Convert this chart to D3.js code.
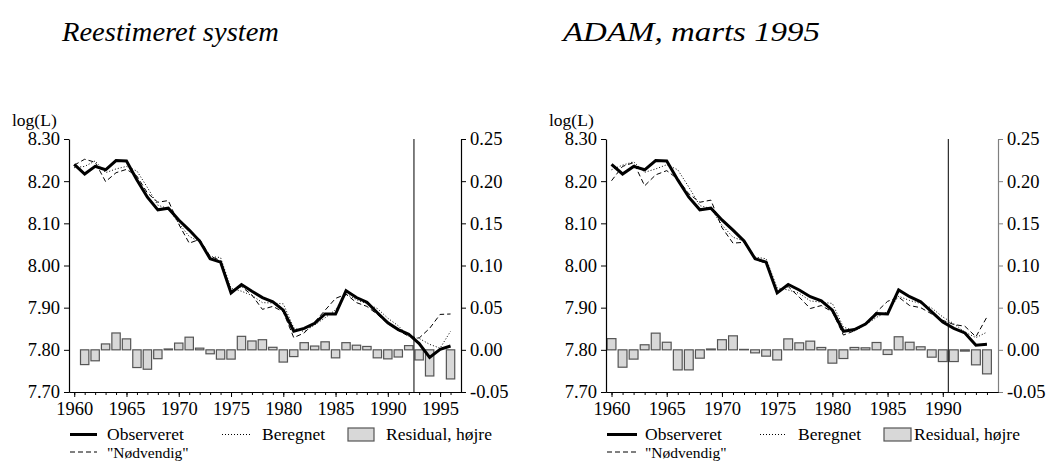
<!DOCTYPE html>
<html><head><meta charset="utf-8">
<script src="https://cdn.jsdelivr.net/npm/d3@7"></script>
<style>
body{margin:0;background:#fff;}
svg text{font-family:"Liberation Serif","Times New Roman",serif;fill:#000;}
</style></head>
<body><svg id="c" width="1050" height="461"></svg>
<script>
// ---------- DATA ----------
const titles = ["Reestimeret system", "ADAM, marts 1995"];
const legendLabels = ["Observeret", "Beregnet", "Residual, højre", "\"Nødvendig\""];
const yAxisLabel = "log(L)";
const leftTicks = [7.70, 7.80, 7.90, 8.00, 8.10, 8.20, 8.30];
const rightTicks = [-0.05, 0.00, 0.05, 0.10, 0.15, 0.20, 0.25];

// Panel A: Reestimeret system
const yearsA = [1960,1961,1962,1963,1964,1965,1966,1967,1968,1969,1970,1971,1972,1973,1974,1975,1976,1977,1978,1979,1980,1981,1982,1983,1984,1985,1986,1987,1988,1989,1990,1991,1992,1993,1994,1995,1996];
const xTicksA = [1960,1965,1970,1975,1980,1985,1990,1995];
const observedA = [8.240,8.217,8.235,8.227,8.249,8.248,8.203,8.162,8.132,8.136,8.108,8.084,8.058,8.016,8.008,7.935,7.955,7.939,7.924,7.914,7.894,7.844,7.851,7.863,7.885,7.885,7.940,7.924,7.913,7.888,7.864,7.848,7.837,7.815,7.782,7.801,7.809];
const computedA = [8.232,8.235,8.248,8.220,8.229,8.235,8.224,8.185,8.143,8.135,8.100,8.069,8.056,8.021,8.019,7.946,7.939,7.929,7.912,7.911,7.909,7.852,7.843,7.859,7.876,7.895,7.932,7.919,7.909,7.898,7.875,7.857,7.832,7.827,7.813,7.804,7.844];
const necessaryA = [8.238,8.252,8.245,8.199,8.220,8.228,8.212,8.172,8.150,8.154,8.098,8.053,8.062,8.022,8.012,7.940,7.950,7.930,7.896,7.903,7.890,7.829,7.840,7.866,7.894,7.922,7.932,7.912,7.903,7.884,7.862,7.846,7.832,7.828,7.851,7.884,7.885];
const residYearsA = [1961,1962,1963,1964,1965,1966,1967,1968,1969,1970,1971,1972,1973,1974,1975,1976,1977,1978,1979,1980,1981,1982,1983,1984,1985,1986,1987,1988,1989,1990,1991,1992,1993,1994,1995,1996];
const residualA = [-0.0175,-0.013,0.007,0.020,0.013,-0.021,-0.023,-0.0105,0.001,0.008,0.015,0.002,-0.0047,-0.011,-0.011,0.016,0.0105,0.012,0.003,-0.0145,-0.008,0.0085,0.0045,0.0095,-0.0095,0.0085,0.0055,0.004,-0.0095,-0.0107,-0.0085,0.005,-0.012,-0.031,0.0,-0.0345];
const splitA = 1992.5;

// Panel B: ADAM, marts 1995
const yearsB = [1960,1961,1962,1963,1964,1965,1966,1967,1968,1969,1970,1971,1972,1973,1974,1975,1976,1977,1978,1979,1980,1981,1982,1983,1984,1985,1986,1987,1988,1989,1990,1991,1992,1993,1994];
const xTicksB = [1960,1965,1970,1975,1980,1985,1990];
const observedB = [8.240,8.217,8.235,8.227,8.249,8.248,8.203,8.162,8.132,8.136,8.108,8.084,8.058,8.016,8.008,7.935,7.955,7.942,7.926,7.916,7.894,7.844,7.848,7.861,7.886,7.885,7.942,7.926,7.914,7.890,7.866,7.851,7.840,7.811,7.813];
const computedB = [8.227,8.238,8.246,8.221,8.229,8.239,8.227,8.186,8.142,8.135,8.096,8.067,8.058,8.020,8.016,7.947,7.942,7.934,7.916,7.913,7.910,7.854,7.845,7.859,7.877,7.891,7.927,7.917,7.910,7.899,7.878,7.862,7.842,7.829,7.842];
const necessaryB = [8.201,8.235,8.244,8.189,8.215,8.225,8.205,8.170,8.150,8.155,8.090,8.053,8.055,8.015,8.005,7.940,7.950,7.925,7.898,7.905,7.890,7.835,7.845,7.862,7.890,7.915,7.925,7.905,7.900,7.885,7.870,7.860,7.856,7.831,7.878];
const residYearsB = yearsB;
const residualB = [0.0133,-0.0206,-0.011,0.006,0.0198,0.009,-0.0238,-0.0238,-0.0099,0.001,0.012,0.0166,0.0005,-0.0036,-0.0075,-0.012,0.013,0.0083,0.0103,0.0028,-0.0158,-0.0103,0.0028,0.0024,0.0087,-0.0055,0.0155,0.009,0.0036,-0.0087,-0.0139,-0.0139,-0.0015,-0.0178,-0.0285];
const splitB = 1990.5;

// ---------- LAYOUT ----------
const panels = [
  {title: titles[0], titleX: 62, titleLen: 217, left: 69, right: 461, xDomain: [1959.5, 1997],
   years: yearsA, xTicks: xTicksA, obs: observedA, calc: computedA, need: necessaryA,
   rYears: residYearsA, resid: residualA, split: splitA, rightAxisColor: "#000",
   leg: {s1: [70, 97], t1: 107, s2: [222, 250], t2: 262, box: [348, 374], t3: 386}},
  {title: titles[1], titleX: 563, titleLen: 257, left: 606, right: 998, xDomain: [1959.5, 1995],
   years: yearsB, xTicks: xTicksB, obs: observedB, calc: computedB, need: necessaryB,
   rYears: residYearsB, resid: residualB, split: splitB, rightAxisColor: "#808080",
   leg: {s1: [607, 637], t1: 645, s2: [760, 787], t2: 798, box: [884, 911], t3: 914}}
];
const plotTop = 139, plotBottom = 392;
const svg = d3.select("#c");
const fmt = v => { const s = v.toFixed(2); return s === "-0.00" ? "0.00" : s; };

panels.forEach(p => {
  const g = svg.append("g");
  const x = d3.scaleLinear().domain(p.xDomain).range([p.left, p.right]);
  const yL = d3.scaleLinear().domain([7.70, 8.30]).range([plotBottom, plotTop]);
  const yR = d3.scaleLinear().domain([-0.05, 0.25]).range([plotBottom, plotTop]);
  const step = x(1961) - x(1960);

  // title
  g.append("text").attr("x", p.titleX).attr("y", 41)
    .attr("font-size", 28).attr("font-style", "italic")
    .attr("textLength", p.titleLen).attr("lengthAdjust", "spacingAndGlyphs")
    .text(p.title);

  // residual bars
  g.selectAll("rect.bar").data(p.resid.map((v, i) => ({yr: p.rYears[i], v})).filter(d => d.v !== 0))
    .join("rect").attr("class", "bar")
    .attr("x", d => x(d.yr) - step * 0.4).attr("width", step * 0.8)
    .attr("y", d => yR(Math.max(0, d.v)))
    .attr("height", d => Math.abs(yR(d.v) - yR(0)))
    .attr("fill", "#d8d8d8").attr("stroke", "#555").attr("stroke-width", 1.2);

  // split line
  g.append("line").attr("x1", x(p.split)).attr("x2", x(p.split))
    .attr("y1", plotTop).attr("y2", plotBottom).attr("stroke", "#000").attr("stroke-width", 1);

  const line = arr => d3.line().x((d, i) => x(p.years[i])).y(d => yL(d))(arr);
  g.append("path").attr("d", line(p.need)).attr("fill", "none").attr("stroke", "#000")
    .attr("stroke-width", 1).attr("stroke-dasharray", "5,3");
  g.append("path").attr("d", line(p.calc)).attr("fill", "none").attr("stroke", "#000")
    .attr("stroke-width", 1).attr("stroke-dasharray", "1,2");
  g.append("path").attr("d", line(p.obs)).attr("fill", "none").attr("stroke", "#000")
    .attr("stroke-width", 3).attr("stroke-linejoin", "miter");

  // axes
  const axL = g.append("g").attr("transform", `translate(${p.left},0)`)
    .call(d3.axisLeft(yL).tickValues(leftTicks).tickFormat(fmt).tickSize(5).tickSizeOuter(0).tickPadding(4));
  const axR = g.append("g").attr("transform", `translate(${p.right},0)`)
    .call(d3.axisRight(yR).tickValues(rightTicks).tickFormat(fmt).tickSize(5).tickSizeOuter(0).tickPadding(4));
  axR.selectAll("path,line").attr("stroke", p.rightAxisColor);
  const axMinor = g.append("g").attr("transform", `translate(0,${plotBottom})`)
    .call(d3.axisBottom(x).tickValues(p.years).tickFormat("").tickSize(3).tickSizeOuter(0));
  const axB = g.append("g").attr("transform", `translate(0,${plotBottom})`)
    .call(d3.axisBottom(x).tickValues(p.xTicks).tickFormat(d3.format("d")).tickSize(5).tickSizeOuter(0).tickPadding(5));
  [axL, axR, axMinor, axB].forEach(a => {
    a.selectAll("text").attr("font-size", 18.5).attr("font-family", "'Liberation Serif','Times New Roman',serif").attr("fill", "#000");
    a.select(".domain").attr("stroke-width", 1.2);
  });

  g.append("text").attr("x", p.left - 57).attr("y", 126).attr("font-size", 17.5).text(yAxisLabel);

  // legend
  const L = p.leg, ly1 = 434.5, ly2 = 452;
  g.append("line").attr("x1", L.s1[0]).attr("x2", L.s1[1]).attr("y1", ly1).attr("y2", ly1)
    .attr("stroke", "#000").attr("stroke-width", 3);
  g.append("text").attr("x", L.t1).attr("y", 439.5).attr("font-size", 17.5).text(legendLabels[0]);
  g.append("line").attr("x1", L.s2[0]).attr("x2", L.s2[1]).attr("y1", ly1).attr("y2", ly1)
    .attr("stroke", "#000").attr("stroke-width", 1).attr("stroke-dasharray", "1,2");
  g.append("text").attr("x", L.t2).attr("y", 439.5).attr("font-size", 17.5).text(legendLabels[1]);
  g.append("rect").attr("x", L.box[0]).attr("y", 428).attr("width", L.box[1] - L.box[0]).attr("height", 13)
    .attr("fill", "#d8d8d8").attr("stroke", "#555").attr("stroke-width", 1.2);
  g.append("text").attr("x", L.t3).attr("y", 439.5).attr("font-size", 17.5).text(legendLabels[2]);
  g.append("line").attr("x1", L.s1[0]).attr("x2", L.s1[1]).attr("y1", ly2).attr("y2", ly2)
    .attr("stroke", "#000").attr("stroke-width", 1).attr("stroke-dasharray", "5,3");
  g.append("text").attr("x", L.t1).attr("y", 457.5).attr("font-size", 15.5).text(legendLabels[3]);
});
</script></body></html>
